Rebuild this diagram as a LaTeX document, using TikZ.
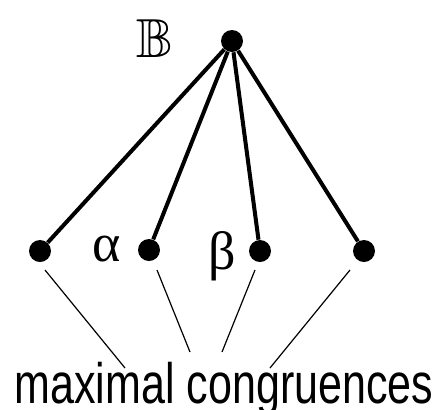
\documentclass[tikz,border=0pt]{standalone}
\usepackage{amsmath,amssymb}
\usepackage{fontspec}
\setsansfont{Liberation Sans}
\newfontfamily\grkfont{Liberation Serif}
\usepackage{tikz}
\usetikzlibrary{positioning,calc}
\tikzset{
  dot/.style={circle, fill=black, inner sep=0pt, minimum size=11pt},
  edg/.style={line width=2pt, draw=black},
  pnt/.style={line width=0.6pt, draw=black},
  lbl/.style={font=\grkfont\fontsize{27}{29}\selectfont, inner sep=0pt},
  captxt/.style={font=\sffamily\fontsize{28.5}{30}\selectfont, inner sep=0pt,
              anchor=base, xscale=0.755},
}

\begin{document}
\begin{tikzpicture}[x=0.5pt, y=-0.5pt]
  \useasboundingbox (0,0) rectangle (440,409);
  % top element and the maximal congruences below it
  \node[dot] (top) at (232,41) {};
  \node[inner sep=0pt, font=\fontsize{27.5}{29}\selectfont] (tb) at (155,39) {$\mathbb{B}$};
  \node[dot] (m1) at (40,251) {};
  \node[dot] (m2) at (149,250) {};
  \node[dot] (m3) at (260,251) {};
  \node[dot] (m4) at (364,251) {};
  \node[lbl] (la) at (107,249) {α};
  \node[lbl] (lb) at (222,256) {β};

  \foreach \m in {m1,m2,m3,m4}
    \draw[edg] (top) -- (\m);

  % caption with pointers
  \node[captxt] (cp) at (224,403) {maximal congruences};
  \coordinate (s1) at (45,270);  \coordinate (e1) at (125,368);
  \coordinate (s2) at (157,270); \coordinate (e2) at (190,352);
  \coordinate (s3) at (255,270); \coordinate (e3) at (222,352);
  \coordinate (s4) at (350,270); \coordinate (e4) at (270,368);
  \foreach \i in {1,...,4}
    \draw[pnt] (s\i) -- (e\i);
\end{tikzpicture}
\end{document}
